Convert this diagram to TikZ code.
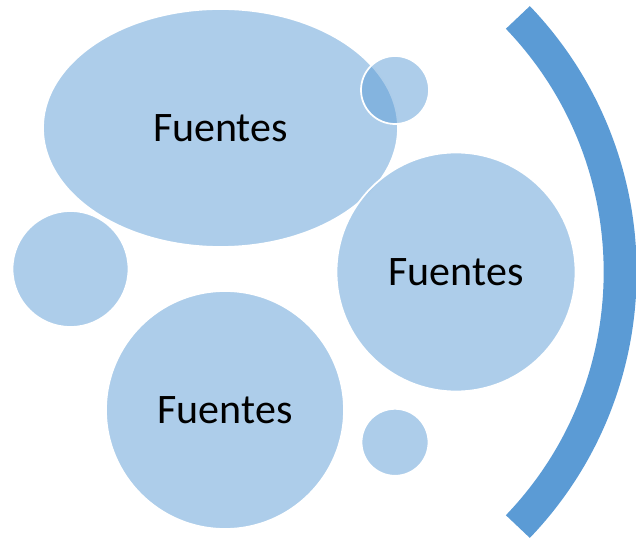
\documentclass[tikz,border=0pt]{standalone}
\usepackage{fontspec}
\setmainfont{Carlito}
\usepackage{tikz}
\usetikzlibrary{shapes.geometric}
\definecolor{accentblue}{HTML}{5B9BD5}

\begin{document}
\begin{tikzpicture}[ x=1pt, y=1pt,
    bubble/.style= {
        circle,
        fill=accentblue,
        fill opacity=.5,
        text opacity=1,
        draw=white,
        line width=1.75pt,
        inner sep=0pt,
        font=\fontsize{42}{50}\selectfont
    },
    band/.style= {
        draw=accentblue,
        line width=33pt,
        line cap=butt
    } ]
    \useasboundingbox (0,0) rectangle (636,541);
    \node (fuentes top) [bubble, ellipse, minimum width=355pt, minimum height=238pt] at (220.5,413) {Fuentes};
    \node (dot top) [bubble, minimum size=68pt] at (395,451) {};
    \node (fuentes right) [bubble, minimum size=239pt] at (456,269) {Fuentes};
    \node (dot left) [bubble, minimum size=116pt] at (70.5,272) {};
    \node (fuentes bottom) [bubble, minimum size=238pt] at (225,131) {Fuentes};
    \node (dot bottom) [bubble, minimum size=67pt] at (395,98.7) {};
    \coordinate (arc center) at (252.4,269);
    \draw [band] ([shift={(-43.8:367.8pt)}]arc center) arc [start angle=-43.8, end angle=43.8, radius=367.8pt];
\end{tikzpicture}
\end{document}
